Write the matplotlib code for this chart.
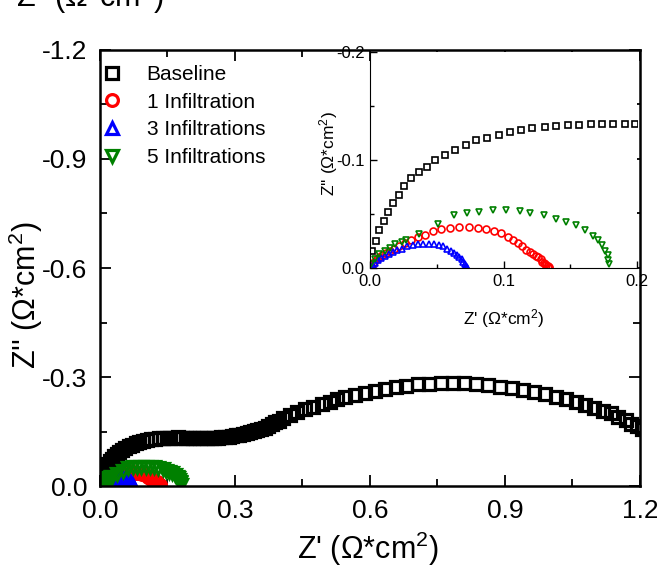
import numpy as np
import matplotlib
matplotlib.use('Agg')
import matplotlib.pyplot as plt
from matplotlib.ticker import MultipleLocator, FormatStrFormatter

plt.rcParams['font.family'] = ['Liberation Sans', 'DejaVu Sans']
plt.rcParams['mathtext.default'] = 'regular'
plt.rcParams['axes.unicode_minus'] = False

# ============================================================
# Impedance data (Z', -Z'' in ohm*cm^2)
# ============================================================

baseline_re = [0.0012, 0.0045, 0.0070, 0.0107, 0.0137, 0.0174, 0.0214, 0.0256, 0.0306, 0.0368,
               0.0427, 0.0487, 0.0561, 0.0636, 0.0716, 0.0795, 0.0877, 0.0964, 0.1046, 0.1128,
               0.1217, 0.1307, 0.1394, 0.1481, 0.1565, 0.1652, 0.1739, 0.1821, 0.1908, 0.1988,
               0.206, 0.214, 0.222, 0.230, 0.238, 0.246, 0.254, 0.262, 0.270, 0.278,
               0.286, 0.294, 0.302, 0.310, 0.318, 0.326, 0.334, 0.342, 0.350, 0.358,
               0.366, 0.374, 0.382, 0.390, 0.398,
               0.407, 0.422, 0.437, 0.456, 0.474, 0.493, 0.511, 0.526, 0.544, 0.567,
               0.589, 0.611, 0.633, 0.658, 0.681, 0.706, 0.732, 0.758, 0.784, 0.810,
               0.835, 0.863, 0.889, 0.915, 0.941, 0.964, 0.989, 1.013, 1.036, 1.058,
               1.078, 1.098, 1.117, 1.135, 1.152, 1.168, 1.181, 1.193, 1.205]
baseline_im = [0.0157, 0.0250, 0.0349, 0.0435, 0.0519, 0.0602, 0.0679, 0.0756, 0.0830, 0.0889,
               0.0938, 0.0997, 0.1049, 0.1096, 0.1142, 0.1188, 0.1207, 0.1235, 0.1259, 0.1281,
               0.1299, 0.1309, 0.1318, 0.1327, 0.1327, 0.1333, 0.1336, 0.1333, 0.1330, 0.1330,
               0.1328, 0.1325, 0.1322, 0.1320, 0.1320, 0.1322, 0.1326, 0.1332, 0.1340, 0.1350,
               0.1362, 0.1376, 0.1392, 0.1410, 0.1430, 0.1452, 0.1476, 0.1502, 0.1530, 0.1560,
               0.1592, 0.1650, 0.1700, 0.1750, 0.1800,
               0.186, 0.195, 0.205, 0.211, 0.218, 0.226, 0.232, 0.239, 0.244, 0.250,
               0.257, 0.262, 0.267, 0.272, 0.276, 0.280, 0.282, 0.283, 0.283, 0.283,
               0.282, 0.278, 0.273, 0.269, 0.264, 0.258, 0.252, 0.246, 0.239, 0.231,
               0.223, 0.216, 0.207, 0.200, 0.191, 0.182, 0.172, 0.165, 0.158]

inf1_re = [0.001, 0.002, 0.003, 0.005, 0.007, 0.009, 0.012, 0.015, 0.018, 0.022,
           0.026, 0.031, 0.036, 0.041, 0.047, 0.053, 0.060, 0.067, 0.074, 0.081,
           0.087, 0.093, 0.098, 0.103, 0.107, 0.111, 0.114, 0.117, 0.120, 0.122,
           0.124, 0.126, 0.128, 0.129, 0.130, 0.131, 0.132, 0.133, 0.134, 0.134]
inf1_im = [0.002, 0.004, 0.006, 0.008, 0.010, 0.012, 0.014, 0.016, 0.018, 0.020,
           0.023, 0.026, 0.029, 0.031, 0.034, 0.036, 0.037, 0.038, 0.038, 0.037,
           0.036, 0.034, 0.032, 0.029, 0.026, 0.023, 0.020, 0.017, 0.015, 0.013,
           0.011, 0.010, 0.008, 0.006, 0.005, 0.004, 0.003, 0.002, 0.001, 0.000]

inf3_re = [0.001, 0.002, 0.004, 0.006, 0.008, 0.011, 0.014, 0.017, 0.020, 0.024,
           0.028, 0.032, 0.036, 0.040, 0.044, 0.048, 0.052, 0.055, 0.058, 0.061,
           0.063, 0.065, 0.067, 0.069, 0.070, 0.071, 0.072, 0.073, 0.073]
inf3_im = [0.001, 0.003, 0.005, 0.007, 0.009, 0.011, 0.013, 0.015, 0.017, 0.018,
           0.020, 0.021, 0.022, 0.0225, 0.0225, 0.022, 0.021, 0.020, 0.018, 0.016,
           0.014, 0.012, 0.010, 0.008, 0.006, 0.004, 0.002, 0.001, 0.000]

inf5_re = [0.001, 0.004, 0.007, 0.011, 0.015, 0.019, 0.024, 0.027, 0.037, 0.051,
           0.063, 0.073, 0.082, 0.092, 0.102, 0.112, 0.120, 0.130, 0.139, 0.147,
           0.154, 0.161, 0.167, 0.171, 0.174, 0.176, 0.178, 0.178, 0.179]
inf5_im = [0.004, 0.0086, 0.0127, 0.0157, 0.0188, 0.022, 0.024, 0.0256, 0.0318, 0.041,
           0.0488, 0.051, 0.052, 0.0534, 0.0534, 0.0525, 0.051, 0.0488, 0.0457, 0.0426,
           0.0395, 0.0349, 0.030, 0.0256, 0.021, 0.016, 0.0117, 0.007, 0.004]

series = [
    ('Baseline', baseline_re, baseline_im, 's', 'black'),
    ('1 Infiltration', inf1_re, inf1_im, 'o', 'red'),
    ('3 Infiltrations', inf3_re, inf3_im, '^', 'blue'),
    ('5 Infiltrations', inf5_re, inf5_im, 'v', 'green'),
]

# ============================================================
# Figure
# ============================================================

fig = plt.figure(figsize=(6.57, 5.66), dpi=100)
ax = fig.add_axes([0.1522, 0.1413, 0.8219, 0.7704])

for label, re, im, mk, col in series:
    ax.plot(re, -np.array(im), linestyle='none', marker=mk, markersize=8.5,
            markerfacecolor='none', markeredgecolor=col, markeredgewidth=2.3,
            label=label)

ax.set_xlim(0, 1.2)
ax.set_ylim(0, -1.2)
ax.xaxis.set_major_locator(MultipleLocator(0.3))
ax.xaxis.set_minor_locator(MultipleLocator(0.15))
ax.yaxis.set_major_locator(MultipleLocator(0.3))
ax.yaxis.set_minor_locator(MultipleLocator(0.15))
ax.xaxis.set_major_formatter(FormatStrFormatter('%.1f'))
ax.yaxis.set_major_formatter(FormatStrFormatter('%.1f'))
ax.tick_params(which='both', direction='in', top=True, right=True, width=1.3, labelsize=19)
ax.tick_params(which='major', length=8)
ax.tick_params(axis='x', which='major', pad=9)
ax.tick_params(axis='y', which='major', pad=9)
ax.tick_params(which='minor', length=5)
for sp in ax.spines.values():
    sp.set_linewidth(1.8)
ax.set_xlabel("Z' (Ω*cm$^2$)", fontsize=22)
ax.set_ylabel("Z'' (Ω*cm$^2$)", fontsize=22)
ax.xaxis.set_label_coords(0.496, -0.1)
ax.yaxis.set_label_coords(-0.102, 0.438)

leg = ax.legend(loc='upper left', frameon=False, fontsize=15, handlelength=0.8,
                handletextpad=1.25, labelspacing=0.42, borderaxespad=0.0,
                bbox_to_anchor=(-0.008, 0.985))

# Inset: zoom on the high-frequency region
axin = fig.add_axes([0.5632, 0.5265, 0.4064, 0.3816])
for label, re, im, mk, col in series:
    axin.plot(re, -np.array(im), linestyle='none', marker=mk, markersize=5,
              markerfacecolor='none', markeredgecolor=col, markeredgewidth=1.2)
axin.set_xlim(0, 0.2)
axin.set_ylim(0, -0.2)
axin.xaxis.set_major_locator(MultipleLocator(0.1))
axin.xaxis.set_minor_locator(MultipleLocator(0.05))
axin.yaxis.set_major_locator(MultipleLocator(0.1))
axin.yaxis.set_minor_locator(MultipleLocator(0.05))
axin.xaxis.set_major_formatter(FormatStrFormatter('%.1f'))
axin.yaxis.set_major_formatter(FormatStrFormatter('%.1f'))
axin.tick_params(which='both', direction='in', labelsize=12, width=1)
axin.tick_params(which='major', length=5, pad=4)
axin.tick_params(which='minor', length=3)
axin.spines['top'].set_visible(False)
axin.spines['right'].set_visible(False)
axin.set_xlabel("Z' (Ω*cm$^2$)", fontsize=12.5)
axin.set_ylabel("Z'' (Ω*cm$^2$)", fontsize=12.5)
axin.xaxis.set_label_coords(0.5, -0.18)
axin.yaxis.set_label_coords(-0.112, 0.528)

# label of the panel above, cut off at the top edge
fig.text(0.025, 1 - 7 / 566, "Z'' (Ω*cm$^2$)", fontsize=22, va='baseline', ha='left')

fig.savefig('out.png', dpi=100)
